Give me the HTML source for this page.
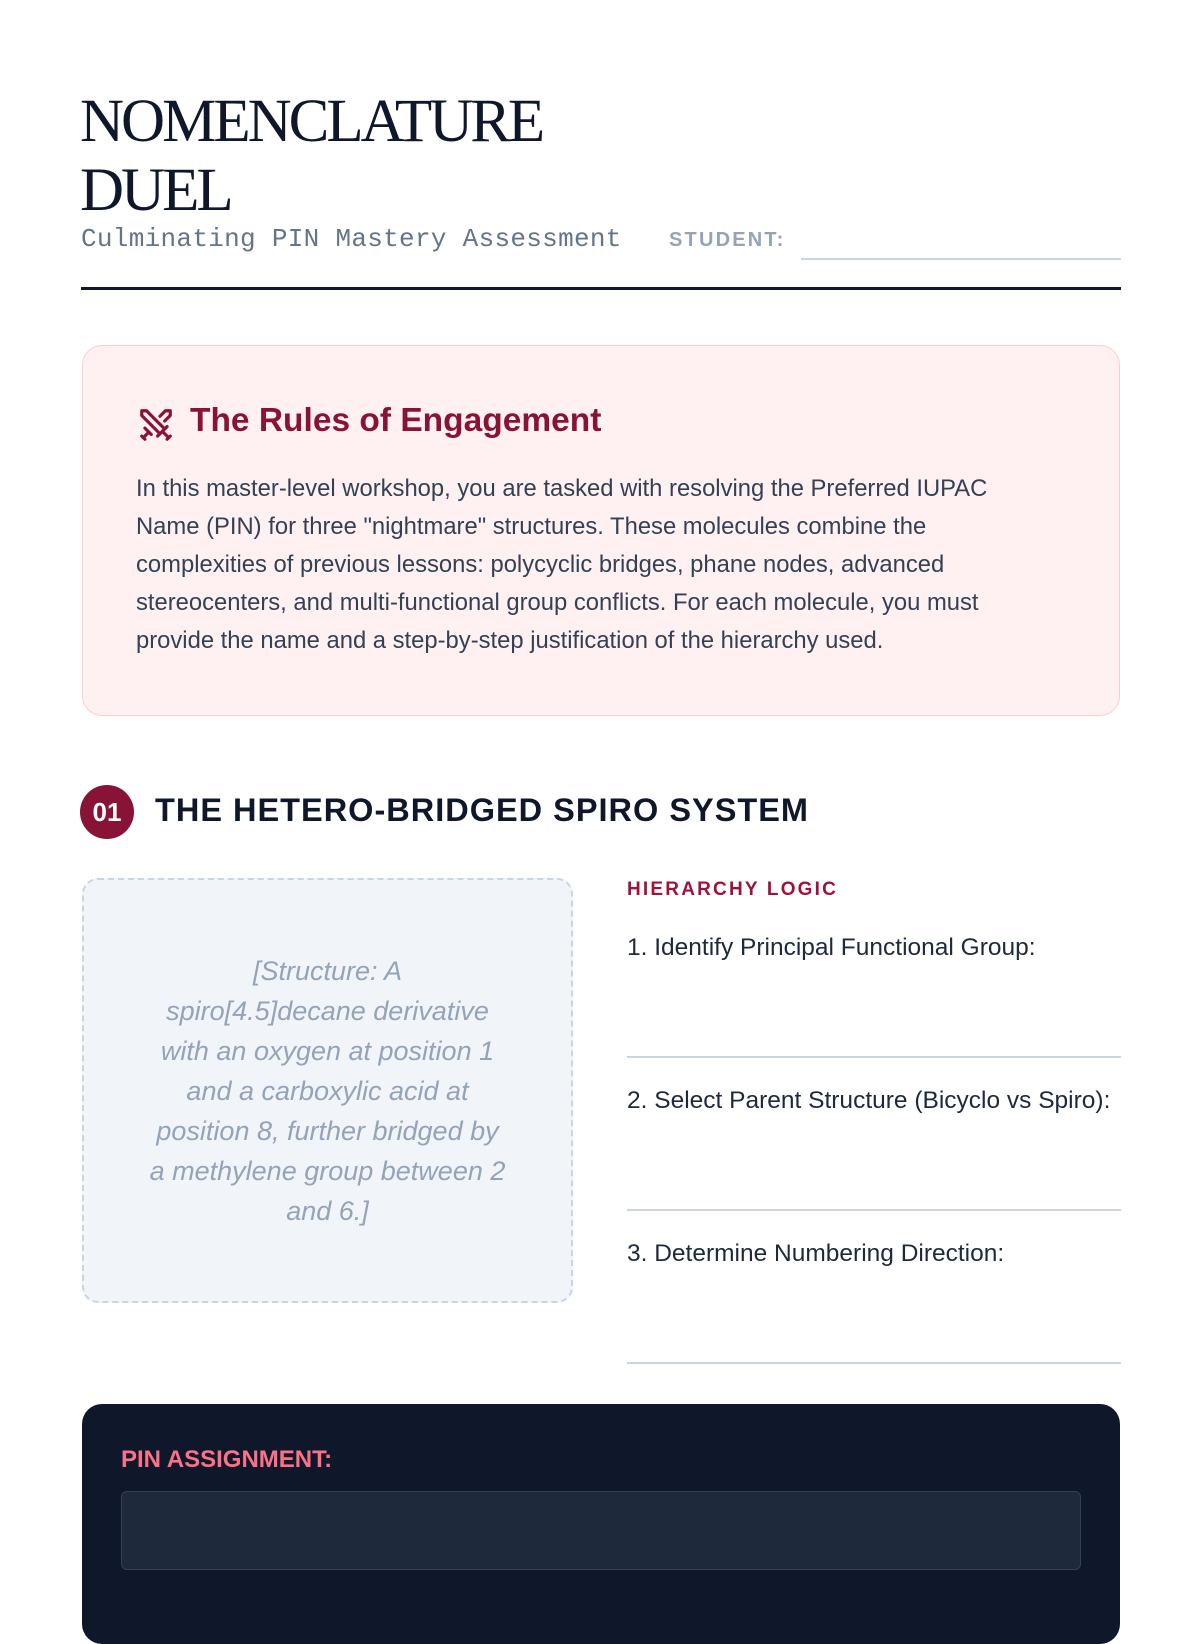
<!DOCTYPE html>
<html><head><meta charset="utf-8"><style>
*{margin:0;padding:0;box-sizing:border-box}
body{width:1200px;height:1600px;background:#fff;position:relative;overflow:hidden;font-family:"Liberation Sans",sans-serif;color:#0f172a}
.abs{position:absolute}
h1{position:absolute;left:80px;top:87px;font-family:"Liberation Serif",serif;font-weight:400;font-size:61px;line-height:69px;color:#0f172a;letter-spacing:-3px}
.sub{left:81px;top:224px;font-family:"Liberation Mono",monospace;font-size:26px;color:#64748b;letter-spacing:0.3px}
.stu{left:669px;top:229px;font-weight:700;font-size:20px;color:#94a3b8;letter-spacing:2.2px}
.rules{left:82px;top:345px;width:1038px;height:371px;background:#fff1f2;border:1.5px solid #fecdd3;border-radius:20px}
.rules h2{position:absolute;left:107px;top:56px;font-size:33.5px;font-weight:700;color:#881337}
.rules p{position:absolute;left:53px;top:124px;width:900px;font-size:23.8px;line-height:38px;color:#334155}
.badge{left:80px;top:785px;width:54px;height:54px;border-radius:50%;background:#881337;color:#fff;font-weight:700;font-size:26px;text-align:center;line-height:54px}
.sec{left:155px;top:792px;font-weight:700;font-size:32.5px;letter-spacing:1px;color:#0f172a}
.struct{left:82px;top:878px;width:491px;height:425px;background:#f1f5f9;border:2.5px dashed #cbd5e1;border-radius:16px;display:flex;align-items:center;justify-content:center;text-align:center;padding:0 10px;font-style:italic;font-size:27px;line-height:40px;color:#94a3b8;white-space:nowrap}
.hl{left:627px;top:879px;font-weight:700;font-size:19px;letter-spacing:2.2px;color:#9f1239}
.q{left:627px;font-size:24.5px;color:#1e293b;white-space:nowrap}
.ln{left:627px;width:494px;height:2px;background:#cbd5e1}
.dark{left:82px;top:1404px;width:1038px;height:240px;background:#0f172a;border-radius:20px}
.pin{left:121px;top:1446px;font-weight:700;font-size:24px;color:#fb7185}
.inp{left:121px;top:1491px;width:960px;height:79px;background:#1e293b;border:1.5px solid #334155;border-radius:6px}
</style></head><body>
<h1>NOMENCLATURE<br>DUEL</h1>
<div class="abs sub">Culminating PIN Mastery Assessment</div>
<div class="abs stu">STUDENT:</div>
<div class="abs" style="left:801px;top:258px;width:320px;height:2px;background:#cbd5e1"></div>
<div class="abs" style="left:81px;top:287px;width:1040px;height:3px;background:#0f172a"></div>
<div class="abs rules">
<svg style="position:absolute;left:54px;top:60px" width="38" height="38" viewBox="0 0 24 24" fill="none" stroke="#881337" stroke-width="2" stroke-linecap="round" stroke-linejoin="round"><polyline points="14.5 17.5 3 6 3 3 6 3 17.5 14.5"/><line x1="13" y1="19" x2="19" y2="13"/><line x1="16" y1="16" x2="20" y2="20"/><line x1="19" y1="21" x2="21" y2="19"/><polyline points="14.5 6.5 18 3 21 3 21 6 17.5 9.5"/><line x1="5" y1="14" x2="9" y2="18"/><line x1="7" y1="17" x2="4" y2="20"/><line x1="3" y1="19" x2="5" y2="21"/></svg>
<h2>The Rules of Engagement</h2>
<p>In this master-level workshop, you are tasked with resolving the Preferred IUPAC Name (PIN) for three "nightmare" structures. These molecules combine the complexities of previous lessons: polycyclic bridges, phane nodes, advanced stereocenters, and multi-functional group conflicts. For each molecule, you must provide the name and a step-by-step justification of the hierarchy used.</p>
</div>
<div class="abs badge">01</div>
<div class="abs sec">THE HETERO-BRIDGED SPIRO SYSTEM</div>
<div class="abs struct"><div>[Structure: A<br>spiro[4.5]decane derivative<br>with an oxygen at position 1<br>and a carboxylic acid at<br>position 8, further bridged by<br>a methylene group between 2<br>and 6.]</div></div>
<div class="abs hl">HIERARCHY LOGIC</div>
<div class="abs q" style="top:934px">1. Identify Principal Functional Group:</div>
<div class="abs ln" style="top:1056px"></div>
<div class="abs q" style="top:1087px">2. Select Parent Structure (Bicyclo vs Spiro):</div>
<div class="abs ln" style="top:1209px"></div>
<div class="abs q" style="top:1240px">3. Determine Numbering Direction:</div>
<div class="abs ln" style="top:1362px"></div>
<div class="abs dark"></div>
<div class="abs pin">PIN ASSIGNMENT:</div>
<div class="abs inp"></div>
</body></html>
